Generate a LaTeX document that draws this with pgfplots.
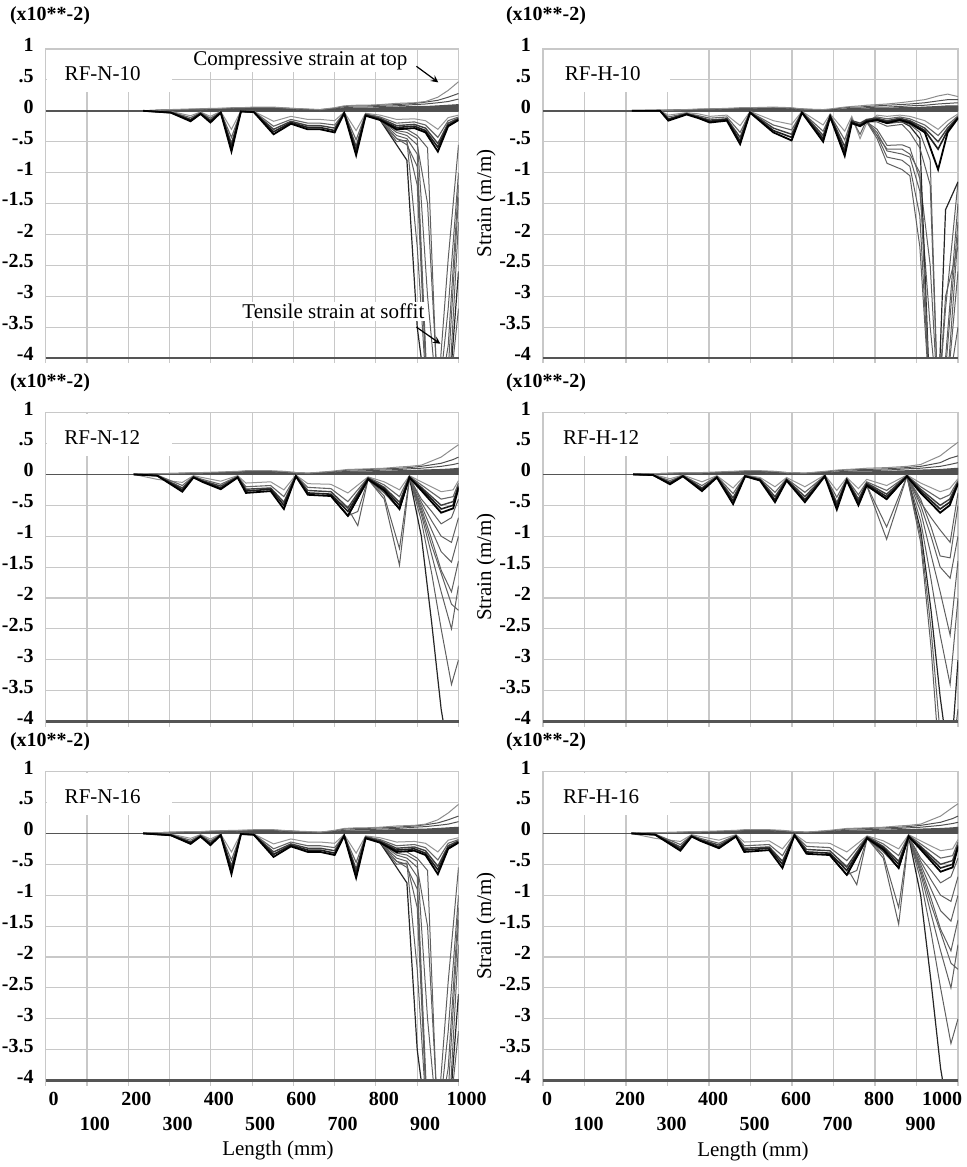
\documentclass[border=0pt]{standalone}
\usepackage{fontspec}
\setmainfont{Liberation Serif}
\usepackage{pgfplots}
\pgfplotsset{compat=1.18}
\usepackage{pgfplotstable}

\definecolor{gridgray}{RGB}{200,200,200}
\definecolor{zerogray}{RGB}{85,85,85}
\definecolor{topgray}{RGB}{80,80,80}
\definecolor{toplight}{RGB}{140,140,140}
\definecolor{failgray}{RGB}{95,95,95}

\newcommand\ticklabfont{\fontsize{10}{12.5}\selectfont\bfseries}
\newcommand\annfont{\fontsize{10.5}{12.5}\selectfont}

% strain profiles along the slab: x = position (mm), t = top fibre, b = soffit band
\pgfplotstableread{
x t1 t2 t3 t4 b1 b2 b3 b4 b5
236 0 0 0 0 0 0 0 0 0
303 0.01 0.01 0.02 0.02 -0.01 -0.02 -0.02 -0.03 -0.03
351 0.01 0.02 0.02 0.03 -0.08 -0.11 -0.14 -0.15 -0.17
375 0.01 0.02 0.03 0.03 -0.02 -0.03 -0.04 -0.05 -0.05
399 0.02 0.03 0.03 0.04 -0.09 -0.12 -0.15 -0.17 -0.19
424 0.02 0.03 0.04 0.04 -0.01 -0.02 -0.02 -0.03 -0.03
450 0.02 0.03 0.04 0.05 -0.30 -0.43 -0.53 -0.59 -0.66
473 0.03 0.04 0.05 0.05 0 -0.01 -0.01 -0.01 -0.01
504 0.03 0.04 0.05 0.06 -0.01 -0.01 -0.02 -0.02 -0.02
552 0.03 0.04 0.05 0.06 -0.17 -0.25 -0.30 -0.34 -0.38
594 0.02 0.03 0.04 0.04 -0.09 -0.14 -0.17 -0.19 -0.21
635 0.01 0.02 0.02 0.03 -0.14 -0.20 -0.24 -0.27 -0.30
665 0.01 0.01 0.02 0.02 -0.14 -0.20 -0.24 -0.27 -0.30
700 0.02 0.03 0.04 0.05 -0.16 -0.23 -0.28 -0.32 -0.35
723 0.04 0.05 0.07 0.08 -0.02 -0.03 -0.03 -0.04 -0.04
752 0.04 0.06 0.08 0.09 -0.32 -0.47 -0.58 -0.65 -0.72
775 0.04 0.06 0.08 0.09 -0.04 -0.05 -0.06 -0.07 -0.08
810 0.05 0.07 0.09 0.10 -0.07 -0.10 -0.12 -0.14 -0.15
850 0.06 0.08 0.10 0.12 -0.14 -0.20 -0.24 -0.27 -0.30
893 0.07 0.10 0.12 0.13 -0.13 -0.18 -0.22 -0.25 -0.28
920 0.07 0.11 0.14 0.15 -0.16 -0.23 -0.28 -0.32 -0.35
950 0.08 0.13 0.17 0.22 -0.30 -0.43 -0.53 -0.59 -0.66
975 0.09 0.15 0.22 0.33 -0.11 -0.16 -0.20 -0.23 -0.25
1000 0.10 0.19 0.28 0.47 -0.07 -0.10 -0.12 -0.14 -0.15
}\tabNten
\pgfplotstableread{
x f1 f2 f3 f4 f5 f6 f7 f8
810 -0.15 -0.15 -0.15 -0.15 -0.15 -0.15 -0.15 -0.15
850 -0.35 -0.40 -0.45 -0.50 -0.55 -0.28 -0.32 -0.45
875 -0.40 -0.45 -0.50 -0.48 -0.80 -0.30 -0.35 -0.55
900 -0.55 -0.70 -1.20 -2.20 -3.50 -0.40 -0.45 -0.90
925 -1.50 -4.60 -4.80 -4.80 -4.80 -0.60 -3.00 -4.80
950 -4.60 -4.80 -4.80 -4.80 -4.80 -4.80 -4.80 -4.80
975 -2.40 -3.20 -4.20 -4.80 -4.80 -4.80 -4.80 -3.80
1000 -0.55 -1.00 -1.40 -1.80 -2.60 -4.50 -3.20 -1.20
}\failNten

\pgfplotstableread{
x t1 t2 t3 t4 b1 b2 b3 b4 b5
214 0 0 0 0 0 0 0 0 0
282 0 0 0.01 0.01 0 0 0 0 0
302 0 0.01 0.01 0.01 -0.07 -0.10 -0.13 -0.14 -0.16
346 0.01 0.01 0.02 0.02 -0.03 -0.04 -0.05 -0.05 -0.06
375 0.01 0.02 0.02 0.03 -0.05 -0.08 -0.10 -0.11 -0.12
402 0.01 0.02 0.03 0.03 -0.09 -0.12 -0.15 -0.17 -0.19
443 0.02 0.03 0.03 0.04 -0.07 -0.10 -0.13 -0.14 -0.16
475 0.02 0.03 0.04 0.05 -0.24 -0.35 -0.43 -0.49 -0.54
499 0.02 0.03 0.04 0.05 -0.01 -0.02 -0.02 -0.03 -0.03
555 0.03 0.04 0.05 0.06 -0.16 -0.23 -0.28 -0.32 -0.35
599 0.02 0.03 0.04 0.05 -0.22 -0.31 -0.38 -0.43 -0.48
624 0.01 0.02 0.03 0.03 -0.01 -0.02 -0.02 -0.03 -0.03
675 0.01 0.01 0.01 0.02 -0.23 -0.33 -0.40 -0.45 -0.50
692 0.01 0.02 0.02 0.03 -0.05 -0.07 -0.08 -0.09 -0.10
727 0.02 0.03 0.05 0.06 -0.33 -0.47 -0.58 -0.66 -0.73
744 0.03 0.04 0.06 0.07 -0.09 -0.13 -0.16 -0.18 -0.20
764 0.03 0.04 0.06 0.08 -0.45 -0.38 -0.20 -0.23 -0.25
780 0.03 0.05 0.07 0.09 -0.20 -0.15 -0.14 -0.16 -0.18
805 0.04 0.06 0.08 0.10 -0.07 -0.10 -0.12 -0.14 -0.15
829 0.04 0.06 0.09 0.11 -0.09 -0.13 -0.16 -0.18 -0.20
860 0.05 0.07 0.10 0.13 -0.07 -0.10 -0.12 -0.14 -0.15
884 0.05 0.08 0.11 0.15 -0.09 -0.13 -0.16 -0.18 -0.20
920 0.06 0.09 0.13 0.18 -0.16 -0.23 -0.28 -0.32 -0.35
952 0.07 0.11 0.16 0.24 -0.30 -0.40 -0.50 -0.62 -0.95
975 0.08 0.12 0.18 0.27 -0.16 -0.23 -0.28 -0.32 -0.35
1000 0.08 0.13 0.18 0.23 -0.05 -0.08 -0.10 -0.11 -0.12
}\tabHten
\pgfplotstableread{
x f1 f2 f3 f4 f5 f6 f7 f8
780 -0.18 -0.18 -0.18 -0.18 -0.18 -0.18 -0.18 -0.18
805 -0.30 -0.35 -0.40 -0.45 -0.15 -0.15 -0.40 -0.18
829 -0.56 -0.65 -0.75 -0.85 -0.20 -0.20 -0.62 -0.25
865 -0.55 -0.70 -0.80 -0.95 -0.18 -0.18 -0.62 -0.22
884 -0.60 -0.75 -0.90 -1.05 -0.25 -0.22 -0.70 -0.35
908 -1.10 -1.30 -1.70 -2.20 -0.45 -0.35 -1.00 -0.60
933 -2.50 -3.50 -4.80 -4.80 -4.80 -0.80 -4.80 -1.20
952 -4.80 -4.80 -4.80 -4.80 -4.80 -4.80 -4.80 -4.80
970 -3.20 -4.00 -4.80 -4.80 -1.60 -4.80 -3.00 -4.20
1000 -1.15 -1.50 -2.00 -2.60 -1.15 -3.50 -2.20 -1.80
}\failHten

\pgfplotstableread{
x t1 t2 t3 t4 b1 b2 b3 b4 b5
213 0 0 0 0 0 0 0 0 0
270 0 0.01 0.01 0.01 -0.08 -0.01 -0.02 -0.02 -0.02
331 0.01 0.01 0.02 0.02 -0.13 -0.18 -0.22 -0.25 -0.28
358 0.01 0.02 0.02 0.03 -0.02 -0.03 -0.04 -0.05 -0.05
379 0.01 0.02 0.03 0.03 -0.05 -0.08 -0.10 -0.11 -0.12
424 0.02 0.03 0.03 0.04 -0.11 -0.16 -0.19 -0.22 -0.24
465 0.02 0.03 0.04 0.05 -0.02 -0.03 -0.04 -0.05 -0.05
485 0.03 0.04 0.05 0.06 -0.14 -0.20 -0.24 -0.27 -0.30
545 0.03 0.04 0.05 0.06 -0.12 -0.18 -0.22 -0.24 -0.27
577 0.02 0.03 0.04 0.05 -0.25 -0.36 -0.45 -0.50 -0.56
606 0.01 0.02 0.03 0.03 -0.01 -0.02 -0.02 -0.03 -0.03
635 0.01 0.01 0.02 0.02 -0.15 -0.21 -0.26 -0.30 -0.33
691 0.02 0.03 0.04 0.05 -0.16 -0.23 -0.28 -0.32 -0.35
732 0.04 0.05 0.07 0.08 -0.30 -0.44 -0.54 -0.60 -0.67
781 0.04 0.06 0.08 0.09 -0.04 -0.05 -0.06 -0.07 -0.08
820 0.05 0.07 0.09 0.10 -0.12 -0.17 -0.21 -0.23 -0.26
857 0.06 0.08 0.10 0.12 -0.25 -0.36 -0.45 -0.50 -0.56
881 0.06 0.09 0.11 0.13 -0.02 -0.03 -0.04 -0.05 -0.05
910 0.07 0.10 0.13 0.15 -0.12 -0.17 -0.21 -0.23 -0.26
958 0.08 0.13 0.18 0.28 -0.28 -0.40 -0.50 -0.56 -0.62
987 0.09 0.16 0.24 0.42 -0.25 -0.36 -0.44 -0.50 -0.55
1000 0.10 0.18 0.28 0.48 -0.10 -0.14 -0.18 -0.20 -0.22
}\tabNtw
\pgfplotstableread{
x f1 f2 f3 f4 f5 f6 f7 f8
691 -0.35 -0.35 -0.35 -0.35 -0.35 -0.35 -0.35 -0.35
732 -0.55 -0.67 -0.67 -0.67 -0.67 -0.67 -0.67 -0.67
756 -0.83 -0.60 -0.38 -0.38 -0.38 -0.38 -0.38 -0.38
781 -0.08 -0.08 -0.08 -0.08 -0.08 -0.08 -0.08 -0.08
820 -0.40 -0.35 -0.30 -0.28 -0.28 -0.28 -0.28 -0.28
857 -1.47 -1.20 -0.56 -0.56 -0.56 -0.56 -0.56 -0.56
881 -0.08 -0.06 -0.05 -0.05 -0.05 -0.05 -0.05 -0.05
910 -0.50 -0.55 -0.65 -0.75 -1.00 -0.40 -0.45 -0.60
935 -0.90 -1.05 -1.30 -1.60 -2.40 -0.60 -0.75 -1.15
958 -1.25 -1.55 -1.90 -2.50 -3.80 -0.80 -1.00 -1.60
983 -1.42 -1.90 -2.50 -3.40 -4.80 -0.70 -1.10 -2.10
1000 -1.00 -1.40 -1.80 -3.00 -4.80 -0.40 -0.70 -2.20
}\failNtw

\pgfplotstableread{
x t1 t2 t3 t4 b1 b2 b3 b4 b5
217 0 0 0 0 0 0 0 0 0
265 0 0.01 0.01 0.01 0 -0.01 -0.01 -0.01 -0.01
306 0.01 0.01 0.02 0.02 -0.07 -0.10 -0.13 -0.14 -0.16
337 0.01 0.02 0.02 0.03 -0.01 -0.02 -0.02 -0.03 -0.03
383 0.01 0.02 0.03 0.03 -0.12 -0.18 -0.22 -0.24 -0.27
419 0.02 0.03 0.03 0.04 -0.02 -0.03 -0.04 -0.05 -0.05
458 0.02 0.03 0.04 0.05 -0.22 -0.31 -0.38 -0.43 -0.48
487 0.03 0.04 0.05 0.06 -0.01 -0.02 -0.02 -0.03 -0.03
523 0.03 0.04 0.05 0.06 -0.05 -0.07 -0.08 -0.09 -0.10
559 0.02 0.03 0.04 0.05 -0.20 -0.29 -0.36 -0.41 -0.45
587 0.01 0.02 0.03 0.03 -0.05 -0.07 -0.08 -0.09 -0.10
631 0.01 0.01 0.02 0.02 -0.20 -0.29 -0.36 -0.41 -0.45
679 0.02 0.03 0.04 0.05 -0.01 -0.02 -0.02 -0.03 -0.03
708 0.03 0.04 0.06 0.07 -0.26 -0.37 -0.46 -0.51 -0.57
732 0.04 0.05 0.07 0.08 -0.05 -0.07 -0.08 -0.09 -0.10
760 0.04 0.06 0.08 0.09 -0.23 -0.33 -0.40 -0.45 -0.50
780 0.04 0.06 0.08 0.10 -0.08 -0.12 -0.14 -0.16 -0.18
828 0.05 0.07 0.09 0.11 -0.18 -0.26 -0.32 -0.36 -0.40
877 0.06 0.09 0.11 0.13 -0.01 -0.02 -0.02 -0.03 -0.03
910 0.07 0.10 0.13 0.16 -0.14 -0.20 -0.24 -0.27 -0.30
957 0.08 0.13 0.19 0.30 -0.28 -0.40 -0.50 -0.56 -0.62
980 0.09 0.16 0.26 0.42 -0.23 -0.33 -0.40 -0.45 -0.50
1000 0.10 0.19 0.30 0.52 -0.07 -0.10 -0.12 -0.14 -0.15
}\tabHtw
\pgfplotstableread{
x f1 f2 f3 f4 f5 f6 f7 f8
780 -0.18 -0.18 -0.18 -0.18 -0.18 -0.18 -0.18 -0.18
828 -1.05 -0.85 -0.40 -0.40 -0.40 -0.40 -0.40 -0.40
877 -0.03 -0.03 -0.03 -0.03 -0.03 -0.03 -0.03 -0.03
910 -0.40 -0.50 -0.60 -0.75 -0.90 -1.10 -0.45 -1.00
935 -0.85 -1.00 -1.30 -1.70 -2.20 -2.80 -0.70 -2.50
957 -1.32 -1.50 -1.90 -2.60 -3.60 -4.80 -0.90 -4.20
981 -1.35 -1.68 -2.60 -3.40 -4.80 -4.80 -1.10 -4.80
1000 -0.50 -1.00 -1.40 -2.00 -3.00 -3.80 -0.30 -4.80
}\failHtw

\pgfplotsset{
  strainpanel/.style={
    scale only axis, anchor=south west,
    width=206.4pt, height=154.5pt,
    xmin=0, xmax=1000, ymin=-4, ymax=1,
    xtick={0,100,200,300,400,500,600,700,800,900,1000},
    ytick={-4,-3.5,-3,-2.5,-2,-1.5,-1,-0.5,0,0.5,1},
    yticklabels={-4,-3.5,-3,-2.5,-2,-1.5,-1,-.5,0,.5,1},
    xticklabels={,,},
    grid=major,
    grid style={gridgray, line width=0.55pt},
    axis line style={gridgray, line width=0.55pt},
    xtick pos=bottom, ytick pos=left, tick align=outside,
    major tick length=2.5pt,
    xtick style={gridgray, line width=0.55pt},
    ytick style={draw=none},
    yticklabel style={font=\ticklabfont, yshift=2pt},
    xticklabel style={font=\ticklabfont, align=center},
    no markers,
  },
  bottomleft/.style={
    xticklabels={0,{\phantom{0}\\100},200,{\phantom{0}\\300},400,{\phantom{0}\\500},600,{\phantom{0}\\700},800,{\phantom{0}\\900},1000},
    xticklabel style={xshift=4pt},
  },
  bottomright/.style={
    xticklabels={0,{\phantom{0}\\100},200,{\phantom{0}\\300},400,{\phantom{0}\\500},600,{\phantom{0}\\700},800,{\phantom{0}\\900},\makebox[0pt][r]{1000}},
    xticklabel style={xshift=2pt},
  },
  zeroline/.style={draw=zerogray, line width=0.8pt},
  topfill/.style={draw=topgray, fill=topgray, line width=0.5pt},
  topline/.style={draw=topgray, line width=0.5pt},
  toplightline/.style={draw=toplight, line width=0.5pt},
  bandA/.style={draw=black!42, line width=0.5pt},
  bandB/.style={draw=black!60, line width=0.55pt},
  bandC/.style={draw=black!75, line width=0.7pt},
  bandD/.style={draw=black!88, line width=0.8pt},
  bandE/.style={draw=black, line width=0.9pt},
  failline/.style={draw=failgray, line width=0.5pt},
  faildark/.style={draw=black!85, line width=0.6pt},
}

% all load steps of one specimen
\newcommand\strainset[2]{%
  \addplot[zeroline] coordinates {(0,0) (1000,0)};
  \addplot[topfill] table[x=x,y=t1]{#1} \closedcycle;
  \addplot[topline] table[x=x,y=t2]{#1};
  \addplot[topline] table[x=x,y=t3]{#1};
  \addplot[toplightline] table[x=x,y=t4]{#1};
  \addplot[bandA] table[x=x,y=b1]{#1};
  \addplot[bandB] table[x=x,y=b2]{#1};
  \addplot[failline] table[x=x,y=f1]{#2};
  \addplot[failline] table[x=x,y=f2]{#2};
  \addplot[failline] table[x=x,y=f3]{#2};
  \addplot[failline] table[x=x,y=f4]{#2};
  \addplot[faildark] table[x=x,y=f5]{#2};
  \addplot[failline] table[x=x,y=f6]{#2};
  \addplot[failline] table[x=x,y=f7]{#2};
  \addplot[failline] table[x=x,y=f8]{#2};
  \addplot[bandC] table[x=x,y=b3]{#1};
  \addplot[bandD] table[x=x,y=b4]{#1};
  \addplot[bandE] table[x=x,y=b5]{#1};
}
\newcommand\specimen[2]{%
  \fill[white] (axis cs:3,0.985) rectangle (axis cs:305,0.3);
  \node[font=\annfont] at (axis cs:#1,0.6) {#2};
}

\begin{document}
\begin{tikzpicture}
\useasboundingbox (0,0) rectangle (483.5pt,583.5pt);

% ---- top row ----
\begin{axis}[strainpanel, at={(22.85pt,404.5pt)}, name=A1]
  \strainset{\tabNten}{\failNten}
  \specimen{138}{RF-N-10}
  \node[font=\annfont, fill=white, inner sep=1pt] at (axis cs:617,0.81) {Compressive strain at top};
  \draw[-stealth, line width=0.6pt] (axis cs:898,0.72) -- (axis cs:951,0.46);
  \node[font=\annfont, fill=white, inner sep=1pt] at (axis cs:697,-3.25) {Tensile strain at soffit};
  \draw[-stealth, line width=0.6pt] (axis cs:898,-3.5) -- (axis cs:956,-3.77);
\end{axis}
\begin{axis}[strainpanel, at={(271.5pt,404.5pt)}, width=207.5pt, name=A2]
  \strainset{\tabHten}{\failHten}
  \specimen{144}{RF-H-10}
\end{axis}

% ---- middle row ----
\begin{axis}[strainpanel, at={(22.85pt,222.7pt)}, name=A3]
  \strainset{\tabNtw}{\failNtw}
  \specimen{137}{RF-N-12}
\end{axis}
\begin{axis}[strainpanel, at={(271.5pt,222.7pt)}, width=207.5pt, name=A4]
  \strainset{\tabHtw}{\failHtw}
  \specimen{140}{RF-H-12}
\end{axis}

% ---- bottom row ----
\begin{axis}[strainpanel, bottomleft, at={(22.85pt,43.2pt)}, name=A5]
  \strainset{\tabNten}{\failNten}
  \specimen{138}{RF-N-16}
\end{axis}
\begin{axis}[strainpanel, bottomright, at={(271.5pt,43.2pt)}, width=207.5pt, name=A6]
  \strainset{\tabNtw}{\failNtw}
  \specimen{140}{RF-H-16}
\end{axis}

% heavy base line of every panel
\foreach \a in {A1,A2,A3,A4,A5,A6}
  \draw[zerogray, line width=1.4pt] (\a.south west) -- (\a.south east);

% scale factor above each strain axis
\foreach \px/\py in {25pt/575.5pt, 273pt/575.5pt, 25pt/392pt, 273pt/392pt, 25pt/212.5pt, 273pt/212.5pt}
  \node[font=\ticklabfont] at (\px,\py) {(x10**-2)};

% strain axis titles of the right-hand column
\foreach \py in {481.75pt, 300pt, 120.5pt}
  \node[font=\annfont, rotate=90] at (243pt,\py) {Strain (m/m)};

\node[font=\annfont] at (139pt,8.5pt) {Length (mm)};
\node[font=\annfont] at (376.5pt,8pt) {Length (mm)};
\end{tikzpicture}
\end{document}
